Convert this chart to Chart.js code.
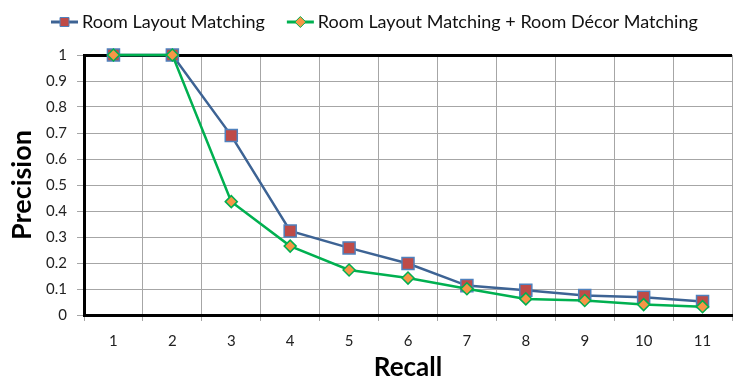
<!DOCTYPE html>
<html><head><meta charset="utf-8">
<script src="https://cdn.jsdelivr.net/npm/chart.js@4"></script>
<style>html,body{margin:0;padding:0;background:#fff}#wrap{width:742px;height:383px}</style>
</head><body><div id="wrap"><canvas id="c" width="742" height="383"></canvas></div>
<script>
const categories = ['1','2','3','4','5','6','7','8','9','10','11'];
const layoutOnly = [1, 1, 0.69, 0.323, 0.258, 0.198, 0.113, 0.095, 0.075, 0.068, 0.052];
const layoutDecor = [1, 1, 0.436, 0.265, 0.173, 0.142, 0.101, 0.062, 0.056, 0.040, 0.032];
const yTickLabels = ['0','0.1','0.2','0.3','0.4','0.5','0.6','0.7','0.8','0.9','1'];
const seriesNames = ['Room Layout Matching', 'Room Layout Matching + Room Décor Matching'];
const xTitle = 'Recall';
const yTitle = 'Precision';

const FONT = 'Lato';

function drawMarker(ctx, style, x, y, r, fill, stroke, bw) {
  ctx.save();
  ctx.fillStyle = fill; ctx.strokeStyle = stroke; ctx.lineWidth = bw;
  ctx.beginPath();
  if (style === 'rect') {
    ctx.rect(x - r, y - r, 2 * r, 2 * r);
  } else {
    ctx.moveTo(x, y - r); ctx.lineTo(x + r, y); ctx.lineTo(x, y + r); ctx.lineTo(x - r, y); ctx.closePath();
  }
  ctx.fill(); ctx.stroke();
  ctx.restore();
}

const legendPlugin = {
  id: 'customLegend',
  afterDraw(chart) {
    const ctx = chart.ctx;
    ctx.save();
    ctx.font = '18px ' + FONT;
    ctx.textBaseline = 'middle';
    ctx.textAlign = 'left';
    let x = 51; const y = 22;
    chart.data.datasets.forEach(ds => {
      ctx.strokeStyle = ds.borderColor; ctx.lineWidth = 3;
      ctx.beginPath(); ctx.moveTo(x, y); ctx.lineTo(x + 27, y); ctx.stroke();
      drawMarker(ctx, ds.pointStyle, x + 13.5, y, ds.pointStyle === 'rect' ? 4.5 : 5.5,
        ds.pointBackgroundColor, ds.pointBorderColor, 1);
      ctx.fillStyle = '#111';
      const tx = x + 31;
      ctx.fillText(ds.label, tx, y);
      x = tx + ctx.measureText(ds.label).width + 22;
    });
    ctx.restore();
  }
};

new Chart(document.getElementById('c'), {
  type: 'line',
  data: {
    labels: categories,
    datasets: [
      {
        label: seriesNames[0], data: layoutOnly, clip: false,
        borderColor: '#3D6394', borderWidth: 2.5, tension: 0,
        pointStyle: 'rect', pointRadius: 8.5, pointHoverRadius: 8.5,
        pointBackgroundColor: '#BE4B48', pointBorderColor: '#4F81BD', pointBorderWidth: 1.5,
        order: 2
      },
      {
        label: seriesNames[1], data: layoutDecor, clip: false,
        borderColor: '#00B050', borderWidth: 2.5, tension: 0,
        pointStyle: 'rectRot', pointRadius: 6, pointHoverRadius: 6,
        pointBackgroundColor: '#F79646', pointBorderColor: '#00B050', pointBorderWidth: 1.5,
        order: 1
      }
    ]
  },
  options: {
    responsive: false,
    animation: false,
    layout: { padding: { top: 55, right: 0, left: 0, bottom: 0 } },
    plugins: { legend: { display: false }, tooltip: { enabled: false } },
    scales: {
      x: {
        type: 'category', offset: true,
        grid: { offset: true, color: '#a6a6a6', lineWidth: 1, tickLength: 6, tickColor: '#a6a6a6' },
        border: { color: '#000', width: 3 },
        ticks: { font: { family: FONT, size: 15 }, color: '#222', padding: 11, maxRotation: 0 },
        title: { display: true, text: xTitle, font: { family: FONT, size: 26, weight: 'bold' }, color: '#000', padding: { top: 0, bottom: 0 } },
        afterFit(s) { s.height = 68; }
      },
      y: {
        min: 0, max: 1,
        grid: {
          color: c => (c.tick && c.tick.value === 1) ? '#000' : '#a6a6a6',
          lineWidth: c => (c.tick && c.tick.value === 1) ? 3 : 1,
          tickLength: 7, tickColor: '#a6a6a6', tickWidth: 1
        },
        border: { color: '#000', width: 3 },
        ticks: { stepSize: 0.1, font: { family: FONT, size: 15 }, color: '#222', padding: 10,
          callback: (v, i) => yTickLabels[i] },
        title: { display: true, text: yTitle, font: { family: FONT, size: 27, weight: 'bold' }, color: '#000', padding: { top: 6, bottom: 0 } },
        afterFit(s) { s.width = 84; }
      }
    }
  },
  plugins: [legendPlugin]
});
</script>
</body></html>
